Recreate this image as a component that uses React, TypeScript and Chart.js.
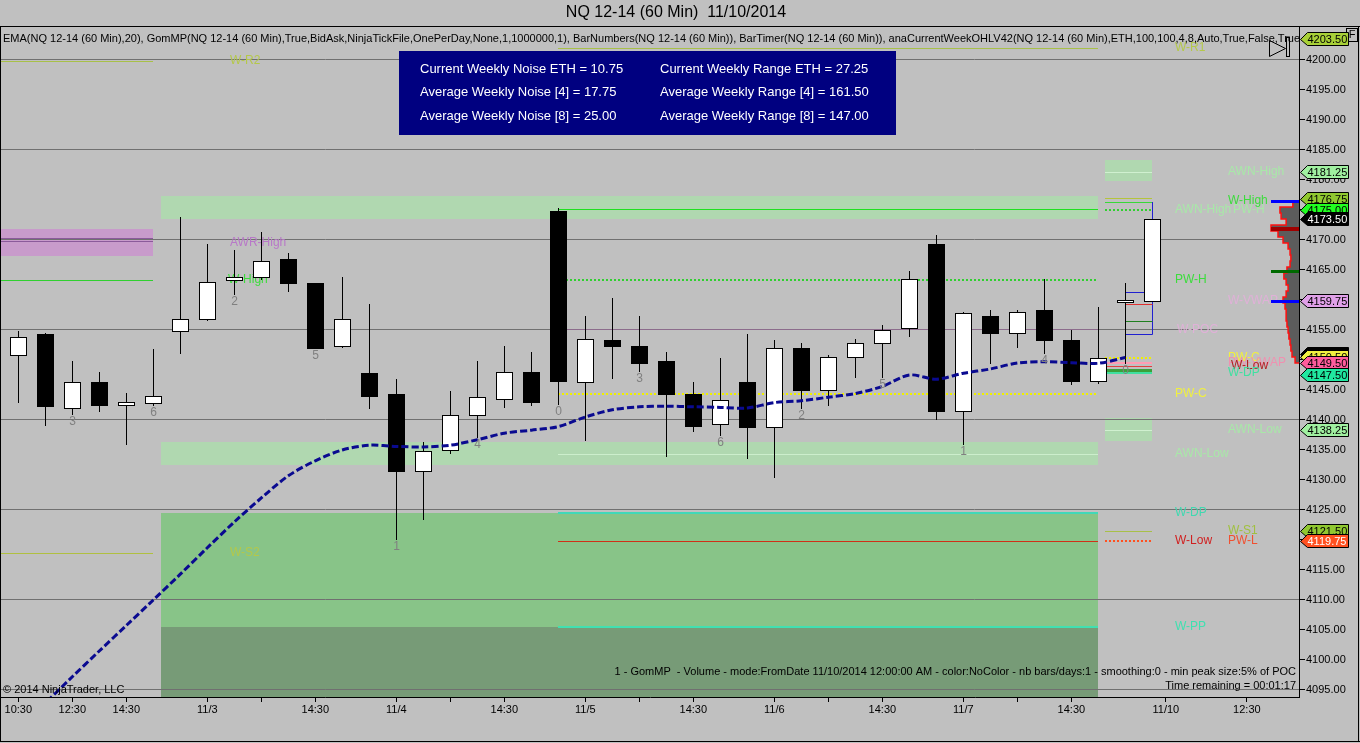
import React, { useEffect, useRef } from "react";
import { Chart, registerables } from "chart.js";

Chart.register(...registerables);

const FONT = "Arial, 'Liberation Sans', sans-serif";
const BG = "#C0C0C0";

// ---------- 60-minute bars (index 0..42) ----------
const barOpen = [4150.75, 4154.25, 4142, 4146.25, 4142.5, 4142.75, 4154.75, 4156.75, 4163.25, 4163.75, 4166.75, 4162.75, 4152.25, 4147.75, 4144.25, 4131.5, 4135, 4140.75, 4143.5, 4148, 4174.75, 4146.25, 4153.25, 4152.25, 4149.75, 4144.25, 4139.25, 4146.25, 4138.75, 4152, 4145, 4150.5, 4152.75, 4155.25, 4169.25, 4141.5, 4157.25, 4154.5, 4158.25, 4153.25, 4146.5, 4159.75, 4159.75];
const barHigh = [4154.75, 4154.5, 4149.75, 4148, 4144.5, 4151.75, 4173.75, 4169.25, 4168.25, 4171.25, 4167.75, 4162.75, 4163.75, 4159.25, 4146.75, 4136.25, 4144.75, 4149.75, 4152.25, 4151.25, 4175.25, 4157.25, 4160.25, 4157.25, 4151.25, 4146.25, 4150.25, 4154.25, 4153.25, 4152.75, 4150.75, 4153.5, 4155.75, 4164.75, 4170.75, 4158, 4158.25, 4158.25, 4163.5, 4155, 4158.75, 4162.75, 4173.5];
const barLow = [4142.75, 4139, 4140.75, 4141.25, 4135.75, 4142.25, 4151, 4156.5, 4160.75, 4163.25, 4161.25, 4151.75, 4152, 4141.75, 4120, 4123.25, 4134.25, 4137, 4142, 4142.25, 4142.5, 4136.5, 4146.75, 4148, 4133.75, 4138, 4137.25, 4133.5, 4130.25, 4141.75, 4142.25, 4147, 4147, 4153.75, 4140, 4135.75, 4149.25, 4152, 4151, 4145.75, 4146, 4149.25, 4159.75];
const barClose = [4153.75, 4142.25, 4146.25, 4142.5, 4143, 4144, 4156.75, 4163, 4163.75, 4166.5, 4162.75, 4152, 4156.75, 4144, 4131.5, 4134.75, 4140.75, 4143.75, 4148, 4143, 4146.5, 4153.5, 4152.25, 4149.5, 4144.25, 4139, 4143.25, 4138.75, 4152, 4145, 4150.5, 4152.75, 4155, 4163.5, 4141.5, 4157.75, 4154.5, 4158, 4153.25, 4146.5, 4150.25, 4160, 4173.5];

// EMA(20)
const emaValues = [4088.5, 4092.8, 4097.2, 4101.5, 4105.75, 4110, 4114.3, 4118.7, 4123, 4127, 4130.7, 4133.2, 4135, 4135.8, 4135.6, 4135.5, 4135.8, 4136.7, 4137.8, 4138.3, 4138.9, 4140.5, 4141.7, 4142.2, 4142.3, 4142.2, 4142.1, 4142, 4142.9, 4143.2, 4143.8, 4144.4, 4145.6, 4147.5, 4146.8, 4147.8, 4148.5, 4149.5, 4149.7, 4149.55, 4149.45, 4150.4, null];

// BarNumbers
const barNumberIndex = [2, 5, 8, 11, 14, 17, 20, 23, 26, 29, 32, 35, 38, 41];
const barNumberText = ["3", "6", "2", "5", "1", "4", "0", "3", "6", "2", "5", "1", "4", "0"];

// axes
const xTickPos = [0, 2, 4, 7, 9, 11, 14, 16, 18, 21, 23, 25, 28, 30, 32, 35, 37, 39, 42.5, 45.5];
const xTickText = ["10:30", "12:30", "14:30", "11/3", "", "14:30", "11/4", "", "14:30", "11/5", "", "14:30", "11/6", "", "14:30", "11/7", "", "14:30", "11/10", "12:30"];
const yTickValues = [4095, 4100, 4105, 4110, 4115, 4120, 4125, 4130, 4135, 4140, 4145, 4150, 4155, 4160, 4165, 4170, 4175, 4180, 4185, 4190, 4195, 4200];
const yGridValues = [4095, 4110, 4125, 4140, 4155, 4170, 4185, 4200];
const X_MIN = -0.64;
const X_MAX = 47.43;
const Y_MIN = 4093.83;
const Y_MAX = 4205.5;

// ---------- shaded zones ----------
const zoneLow = [4167.25, 4173.5, 4132.5, 4105.5, Y_MIN, 4179.75, 4136.5];
const zoneHigh = [4171.75, 4177.25, 4136.25, 4124.5, 4105.5, 4183.25, 4140.25];
const zoneFrom = [X_MIN, 5.28, 5.28, 5.28, 5.28, 40.25, 40.25];
const zoneTo = [5, 40, 40, 40, 40, 42, 42];
const zoneColor = ["#C89BCB", "#B0D8B0", "#B0D8B0", "#88C488", "#779B77", "#B0D8B0", "#B0D8B0"];

// ---------- horizontal level lines ----------
const levelPrice = [4199.75, 4163.25, 4170.25, 4169.75, 4117.75, 4202, 4175.1, 4163.25, 4155.1, 4144.25, 4134.25, 4124.5, 4119.75, 4105.5, 4181.25, 4177, 4176.25, 4175, 4150.25, 4149.5, 4149, 4148.25, 4147.75, 4138.25, 4121.5, 4119.75];
const levelFrom = [X_MIN, X_MIN, X_MIN, X_MIN, X_MIN, 20, 20, 20, 20, 20, 20, 20, 20, 20, 40.25, 40.25, 40.25, 40.25, 40.25, 40.25, 40.25, 40.25, 40.25, 40.25, 40.25, 40.25];
const levelTo = [5, 5, 5, 5, 5, 40, 40, 40, 40, 40, 40, 40, 40, 40, 42, 42, 42, 42, 42, 42, 42, 42, 42, 42, 42, 42];
const levelColor = ["#A8C048", "#30D030", "#8A5A9A", "#8A5A9A", "#B0C040", "#A8C048", "#20E020", "#30D030", "#8C6C8C", "#F0F000", "#CCEECC", "#40D8B8", "#D03018", "#40E0B0", "#D0F0D0", "#B4C43C", "#38D838", "#30D030", "#F0F000", "#FF9CB4", "#E04040", "#3CA03C", "#40E0A0", "#D0F0D0", "#A8C048", "#FF5020"];
const levelWidth = [1, 1, 1, 1, 1, 1, 1, 2, 1, 2, 1, 2, 1, 2, 1, 1, 1, 2, 2, 2, 1, 3, 2, 1, 1, 2];
const levelDotted = [0, 0, 0, 0, 0, 0, 0, 1, 0, 1, 0, 0, 0, 0, 0, 0, 0, 1, 1, 0, 0, 0, 0, 0, 0, 1];

// ---------- level text labels ----------
const labelText = ["W-R2", "AWR-High", "W-High", "W-S2", "W-R1", "AWN-High", "PW-H", "W-POC", "PW-C", "AWN-Low", "W-DP", "W-Low", "W-PP", "AWN-High", "PW-H", "W-High", "W-VWAP", "PW-C", "PW-VWAP", "W-Low", "W-DP", "AWN-Low", "W-S1", "PW-L"];
const labelPrice = [4199.75, 4169.5, 4163.25, 4117.75, 4202, 4175, 4163.25, 4155, 4144.25, 4134.25, 4124.5, 4119.75, 4105.5, 4181.25, 4175, 4176.5, 4159.75, 4150.25, 4149.5, 4149, 4147.75, 4138.25, 4121.5, 4119.75];
const labelAt = [7.84, 7.84, 7.75, 7.84, 42.84, 42.84, 42.84, 42.9, 42.84, 42.84, 42.84, 42.84, 42.84, 44.8, 45.0, 44.8, 44.8, 44.8, 44.8, 44.9, 44.8, 44.8, 44.8, 44.8];
const labelColor = ["#B4C84A", "#B878C8", "#3CDC3C", "#B4C84A", "#B4C84A", "#A8E8A8", "#3CDC3C", "#E0B0D8", "#F0F040", "#A8E8A8", "#40D8B0", "#D02020", "#40E0B0", "#A8E8A8", "#A8E8A8", "#3CDC3C", "#E0B0D8", "#F0F040", "#F090B0", "#B02020", "#40E0A0", "#A8E8A8", "#A0C040", "#F05030"];

// ---------- price markers on the axis ----------
const flagPrice = [4203.5, 4181.25, 4176.75, 4175, 4173.5, 4159.75, 4151, 4150.5, 4149.5, 4147.5, 4138.25, 4121.5, 4119.75];
const flagBg = ["#A8D038", "#A0F0A0", "#90C830", "#20FF20", "#000000", "#E0A0E8", "#000000", "#F0F040", "#FF5C9C", "#20E8A0", "#A0F0A0", "#90C830", "#FF5020"];
const flagFg = ["#000", "#000", "#000", "#000", "#FFF", "#000", "#000", "#000", "#000", "#000", "#000", "#000", "#FFF"];

// ---------- GomMP volume profile (current day) ----------
const profPrice = [4176, 4175, 4174, 4173, 4172, 4171, 4170, 4169, 4168, 4167, 4166, 4165, 4164, 4163, 4162, 4161, 4160, 4159, 4158, 4157, 4156, 4155, 4154, 4153, 4152, 4151, 4150];
const profVol = [22, 68, 64, 46, 100, 75, 57, 39, 32, 29, 32, 43, 54, 46, 39, 46, 57, 50, 46, 46, 43, 39, 36, 32, 29, 25, 14];
const profMarkPrice = [4176.5, 4171.75, 4164.75, 4159.75];
const profMarkColor = ["#0000FF", "#A00000", "#006A00", "#0000FF"];

// current week range box
const boxFrom = 41;
const boxTo = 42;
const boxTop = 4161.4;
const boxBottom = 4154.25;
const boxHigh = 4176.25;
const boxRed = 4159.25;
const boxGreen = 4156.5;

// texts
const titleText = "NQ 12-14 (60 Min)  11/10/2014";
const indicatorText = "EMA(NQ 12-14 (60 Min),20), GomMP(NQ 12-14 (60 Min),True,BidAsk,NinjaTickFile,OnePerDay,None,1,1000000,1), BarNumbers(NQ 12-14 (60 Min)), BarTimer(NQ 12-14 (60 Min)), anaCurrentWeekOHLV42(NQ 12-14 (60 Min),ETH,100,100,4,8,Auto,True,False,True,True)";
const noiseLines = ["Current Weekly Noise ETH = 10.75", "Average Weekly Noise [4] = 17.75", "Average Weekly Noise [8] = 25.00"];
const rangeLines = ["Current Weekly Range ETH = 27.25", "Average Weekly Range [4] = 161.50", "Average Weekly Range [8] = 147.00"];
const gomText = "1 - GomMP  - Volume - mode:FromDate 11/10/2014 12:00:00 AM - color:NoColor - nb bars/days:1 - smoothing:0 - min peak size:5% of POC";
const timerText = "Time remaining = 00:01:17";
const copyrightText = "\u00A9 2014 NinjaTrader, LLC";

const hline = (ctx: any, x0: number, x1: number, y: number, w: number) => {
  const yy = w % 2 ? Math.round(y) + 0.5 : Math.round(y);
  ctx.beginPath();
  ctx.moveTo(x0, yy);
  ctx.lineTo(x1, yy);
  ctx.stroke();
};

const ntPlugin = {
  id: "ntDraw",
  beforeDraw(chart: any) {
    const { ctx, chartArea: a } = chart;
    const xs = chart.scales.x;
    const ys = chart.scales.y;
    ctx.save();
    ctx.fillStyle = BG;
    ctx.fillRect(0, 0, chart.width, chart.height);
    ctx.beginPath();
    ctx.rect(a.left, a.top, a.right - a.left, a.bottom - a.top);
    ctx.clip();
    for (let i = 0; i < zoneLow.length; i++) {
      const x0 = Math.round(xs.getPixelForValue(zoneFrom[i]));
      const x1 = Math.round(xs.getPixelForValue(zoneTo[i]));
      const y0 = Math.round(ys.getPixelForValue(zoneHigh[i]));
      const y1 = Math.round(ys.getPixelForValue(zoneLow[i]));
      ctx.fillStyle = zoneColor[i];
      ctx.fillRect(x0, y0, x1 - x0, y1 - y0);
    }
    ctx.restore();
  },
  beforeDatasetsDraw(chart: any) {
    const { ctx, chartArea: a } = chart;
    const xs = chart.scales.x;
    const ys = chart.scales.y;
    const px = (v: number) => xs.getPixelForValue(v);
    const py = (v: number) => ys.getPixelForValue(v);
    ctx.save();
    ctx.beginPath();
    ctx.rect(a.left, a.top, a.right - a.left, a.bottom - a.top);
    ctx.clip();

    // level lines
    for (let i = 0; i < levelPrice.length; i++) {
      ctx.strokeStyle = levelColor[i];
      ctx.lineWidth = levelWidth[i];
      ctx.setLineDash(levelDotted[i] ? [2, 2] : []);
      hline(ctx, Math.round(px(levelFrom[i])), Math.round(px(levelTo[i])), py(levelPrice[i]), levelWidth[i]);
    }
    ctx.setLineDash([]);

    // labels
    ctx.font = `12px ${FONT}`;
    ctx.textBaseline = "middle";
    ctx.textAlign = "left";
    for (let i = 0; i < labelText.length; i++) {
      ctx.fillStyle = labelColor[i];
      ctx.fillText(labelText[i], Math.round(px(labelAt[i])), Math.round(py(labelPrice[i])));
    }

    // volume profile
    const unit = 0.28;
    const right = a.right;
    const last = profPrice.length - 1;
    ctx.beginPath();
    ctx.moveTo(right, py(profPrice[0] + 0.5));
    for (let i = 0; i < profPrice.length; i++) {
      const w = profVol[i] * unit;
      ctx.lineTo(right - w, py(profPrice[i] + 0.5));
      ctx.lineTo(right - w, py(profPrice[i] - 0.5));
    }
    ctx.lineTo(right, py(profPrice[last] - 0.5));
    ctx.closePath();
    ctx.fillStyle = "#5C5C5C";
    ctx.fill();
    ctx.beginPath();
    ctx.moveTo(right, py(profPrice[0] + 0.5));
    for (let i = 0; i < profPrice.length; i++) {
      const w = profVol[i] * unit;
      ctx.lineTo(right - w, py(profPrice[i] + 0.5));
      ctx.lineTo(right - w, py(profPrice[i] - 0.5));
    }
    ctx.lineTo(right, py(profPrice[last] - 0.5));
    ctx.strokeStyle = "#FF1010";
    ctx.lineWidth = 1.5;
    ctx.stroke();
    for (let i = 0; i < profMarkPrice.length; i++) {
      ctx.strokeStyle = profMarkColor[i];
      ctx.lineWidth = i === 1 ? 4 : 3;
      hline(ctx, right - 28, right, py(profMarkPrice[i]), i === 1 ? 4 : 3);
    }

    // current week box
    const bx0 = Math.round(px(boxFrom)) + 0.5;
    const bx1 = Math.round(px(boxTo)) + 0.5;
    ctx.lineWidth = 1;
    ctx.strokeStyle = "#2020D0";
    hline(ctx, bx0, bx1, py(boxTop), 1);
    hline(ctx, bx0, bx1, py(boxBottom), 1);
    ctx.beginPath();
    ctx.moveTo(bx1, Math.round(py(boxHigh)));
    ctx.lineTo(bx1, Math.round(py(boxBottom)) + 0.5);
    ctx.stroke();
    ctx.strokeStyle = "#E03030";
    hline(ctx, bx0, bx1, py(boxRed), 1);
    ctx.strokeStyle = "#208020";
    hline(ctx, bx0, bx1, py(boxGreen), 1);

    // candles
    const half = Math.round((px(1) - px(0)) * 0.3);
    for (let i = 0; i < barOpen.length; i++) {
      const cx = Math.round(px(i));
      const o = barOpen[i];
      const c = barClose[i];
      ctx.strokeStyle = "#000";
      ctx.lineWidth = 1;
      ctx.beginPath();
      ctx.moveTo(cx + 0.5, Math.round(py(barHigh[i])));
      ctx.lineTo(cx + 0.5, Math.round(py(barLow[i])));
      ctx.stroke();
      const top = Math.round(py(Math.max(o, c)));
      let bot = Math.round(py(Math.min(o, c)));
      if (bot - top < 2) bot = top + 2;
      if (c >= o) {
        ctx.fillStyle = "#FFFFFF";
        ctx.fillRect(cx - half, top, half * 2, bot - top);
        ctx.strokeRect(cx - half + 0.5, top + 0.5, half * 2, bot - top);
      } else {
        ctx.fillStyle = "#000000";
        ctx.fillRect(cx - half, top, half * 2 + 1, bot - top + 1);
      }
    }
    ctx.restore();
  },
  afterDatasetsDraw(chart: any) {
    const { ctx } = chart;
    const xs = chart.scales.x;
    const ys = chart.scales.y;
    ctx.save();
    ctx.font = `12px ${FONT}`;
    ctx.fillStyle = "#808080";
    ctx.textAlign = "center";
    ctx.textBaseline = "top";
    for (let k = 0; k < barNumberIndex.length; k++) {
      const i = barNumberIndex[k];
      ctx.fillText(barNumberText[k], Math.round(xs.getPixelForValue(i)) + 0.5, Math.round(ys.getPixelForValue(barLow[i])) + 1);
    }
    ctx.restore();
  },
  afterDraw(chart: any) {
    const { ctx, chartArea: a } = chart;
    const ys = chart.scales.y;
    const W = chart.width;
    const H = chart.height;
    ctx.save();

    // title
    ctx.fillStyle = "#000";
    ctx.font = `16px ${FONT}`;
    ctx.textAlign = "center";
    ctx.textBaseline = "middle";
    ctx.fillText(titleText, 676, 13);

    // indicator line
    ctx.save();
    ctx.beginPath();
    ctx.rect(a.left, a.top, a.right - a.left, 30);
    ctx.clip();
    ctx.font = `11px ${FONT}`;
    ctx.textAlign = "left";
    ctx.fillStyle = "#000";
    ctx.fillText(indicatorText, 3, 39);
    ctx.restore();

    // info box
    ctx.fillStyle = "#000080";
    ctx.fillRect(399, 51, 497, 84);
    ctx.fillStyle = "#FFFFFF";
    ctx.font = `13px ${FONT}`;
    ctx.textAlign = "left";
    for (let i = 0; i < noiseLines.length; i++) {
      ctx.fillText(noiseLines[i], 420, 69 + i * 23.5);
      ctx.fillText(rangeLines[i], 660, 69 + i * 23.5);
    }

    // bottom texts
    ctx.fillStyle = "#000";
    ctx.font = `11px ${FONT}`;
    ctx.textAlign = "right";
    ctx.fillText(gomText, a.right - 3, 672);
    ctx.fillText(timerText, a.right - 3, 686);
    ctx.textAlign = "left";
    ctx.fillText(copyrightText, 3, 690);

    // play icon and F box
    ctx.strokeStyle = "#000";
    ctx.lineWidth = 1;
    ctx.beginPath();
    ctx.moveTo(1269.5, 40.5);
    ctx.lineTo(1285.5, 48.5);
    ctx.lineTo(1269.5, 56.5);
    ctx.closePath();
    ctx.stroke();
    ctx.strokeRect(1286.5, 37.5, 3, 19);
    ctx.fillStyle = BG;
    ctx.fillRect(1346, 28, 12, 14);
    ctx.strokeRect(1346.5, 28.5, 11, 13);
    ctx.fillStyle = "#000";
    ctx.font = `11px ${FONT}`;
    ctx.textAlign = "center";
    ctx.fillText("F", 1352, 35);

    // axis flags
    ctx.font = `11px ${FONT}`;
    ctx.textAlign = "left";
    ctx.textBaseline = "middle";
    for (let i = 0; i < flagPrice.length; i++) {
      const yc = Math.round(ys.getPixelForValue(flagPrice[i])) + 0.5;
      const tip = a.right + 1.5;
      ctx.beginPath();
      ctx.moveTo(tip, yc);
      ctx.lineTo(tip + 7, yc - 7);
      ctx.lineTo(tip + 48, yc - 7);
      ctx.lineTo(tip + 48, yc + 6);
      ctx.lineTo(tip + 7, yc + 6);
      ctx.closePath();
      ctx.fillStyle = flagBg[i];
      ctx.fill();
      ctx.strokeStyle = "#000";
      ctx.stroke();
      ctx.fillStyle = flagFg[i];
      ctx.fillText(flagPrice[i].toFixed(2), tip + 7, yc);
    }

    // frame
    ctx.strokeStyle = "#000";
    ctx.lineWidth = 1;
    ctx.beginPath();
    ctx.moveTo(0, 26.5);
    ctx.lineTo(W, 26.5);
    ctx.moveTo(0.5, 26.5);
    ctx.lineTo(0.5, H - 1.5);
    ctx.moveTo(0, H - 1.5);
    ctx.lineTo(W, H - 1.5);
    ctx.moveTo(W - 1.5, 26.5);
    ctx.lineTo(W - 1.5, H - 1.5);
    ctx.stroke();
    ctx.restore();
  },
};

export default function App() {
  const ref = useRef<HTMLCanvasElement>(null);
  useEffect(() => {
    const canvas = ref.current;
    if (!canvas) return;
    const chart = new Chart(canvas, {
      type: "line",
      data: {
        datasets: [
          {
            label: "EMA(20)",
            data: emaValues.map((v, i) => ({ x: i, y: v })),
            borderColor: "#0A0A90",
            borderWidth: 3,
            borderDash: [7, 3],
            pointRadius: 0,
            tension: 0.3,
            fill: false,
            spanGaps: false,
          },
        ],
      },
      options: {
        animation: false,
        responsive: false,
        events: [],
        layout: { padding: { top: 27, left: 1, right: 2, bottom: 2 } },
        plugins: { legend: { display: false }, tooltip: { enabled: false }, title: { display: false } },
        scales: {
          x: {
            type: "linear",
            min: X_MIN,
            max: X_MAX,
            afterBuildTicks: (s: any) => {
              s.ticks = xTickPos.map((v) => ({ value: v }));
            },
            afterFit: (s: any) => {
              s.height = 44;
              s.paddingLeft = 0;
              s.paddingRight = 0;
            },
            ticks: {
              autoSkip: false,
              maxRotation: 0,
              minRotation: 0,
              padding: 1,
              color: "#000",
              font: { family: FONT, size: 11 },
              callback: (_v: any, idx: number) => xTickText[idx],
            },
            grid: { drawOnChartArea: false, tickLength: 5, tickColor: "#000", color: "#000" },
            border: { color: "#000", width: 1 },
          },
          y: {
            type: "linear",
            position: "right",
            min: Y_MIN,
            max: Y_MAX,
            afterBuildTicks: (s: any) => {
              s.ticks = yTickValues.map((v) => ({ value: v }));
            },
            afterFit: (s: any) => {
              s.width = 59;
              s.paddingTop = 0;
              s.paddingBottom = 0;
            },
            ticks: {
              padding: 1,
              color: "#000",
              font: { family: FONT, size: 11 },
              callback: (v: any) => Number(v).toFixed(2),
            },
            grid: {
              color: (c: any) => (c.tick && yGridValues.indexOf(c.tick.value) >= 0 ? "#707070" : "rgba(0,0,0,0)"),
              tickColor: "#000",
              tickLength: 6,
              lineWidth: 1,
            },
            border: { color: "#000", width: 1 },
          },
        },
      },
      plugins: [ntPlugin],
    } as any);
    return () => chart.destroy();
  }, []);
  return (
    <div style={{ position: "fixed", left: 0, top: 0, width: 1360, height: 743, background: BG }}>
      <canvas ref={ref} width={1360} height={743} style={{ display: "block", width: 1360, height: 743 }} />
    </div>
  );
}
